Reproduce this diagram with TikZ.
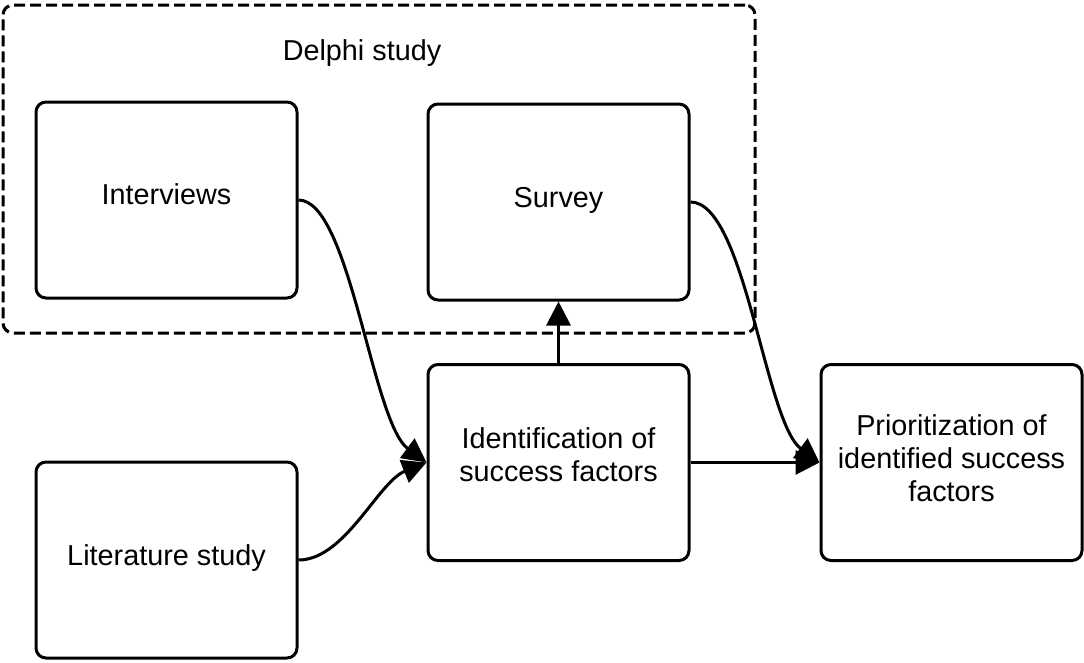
\documentclass[tikz,border=0pt]{standalone}
\usepackage{fontspec}
\setmainfont{Liberation Sans}
\usetikzlibrary{arrows.meta}
\begin{document}
\begin{tikzpicture}[x=1pt,y=-1pt,
  box/.style={draw=black,line width=3pt,rounded corners=10pt,minimum width=261pt,minimum height=196pt,inner sep=0pt},
  conn/.style={draw=black,line width=3pt,-{Triangle[length=24pt,width=24pt]}},
  lbl/.style={align=center,inner sep=0pt,font=\fontsize{28.8}{33}\selectfont}]
\useasboundingbox (0,0) rectangle (1084,662);
\node[draw=black,line width=3pt,dash pattern=on 11pt off 5pt,rounded corners=10pt,minimum width=752pt,minimum height=328pt,inner sep=0pt] (delphi) at (379,169) {};
\node[lbl] (dtitle) at (362,53) {Delphi study};
\node[box] (interviews) at (166.5,200) {};
\node[lbl] (interviewstxt) at (166.5,194.5) {Interviews};
\node[box] (survey) at (558.5,202) {};
\node[lbl] (surveytxt) at (558.5,200) {Survey};
\node[box] (ident) at (558.5,462.5) {};
\node[lbl] (identtxt) at (558.5,455) {Identification of\\success factors};
\node[box] (lit) at (166.5,560) {};
\node[lbl] (littxt) at (166.5,558.5) {Literature study};
\node[box] (prior) at (951.5,462.5) {};
\node[lbl] (priortxt) at (951.5,458) {Prioritization of\\identified success\\factors};
\draw[conn] (interviews.east) .. controls (350,200) and (372,422) .. (ident.west);
\draw[conn] (lit.east) .. controls (345,560) and (378,482) .. (ident.west);
\draw[conn] (survey.east) .. controls (745,202) and (765,422) .. (prior.west);
\draw[conn] (ident.east) -- (prior.west);
\draw[conn] (ident.north) -- (survey.south);
\end{tikzpicture}
\end{document}
